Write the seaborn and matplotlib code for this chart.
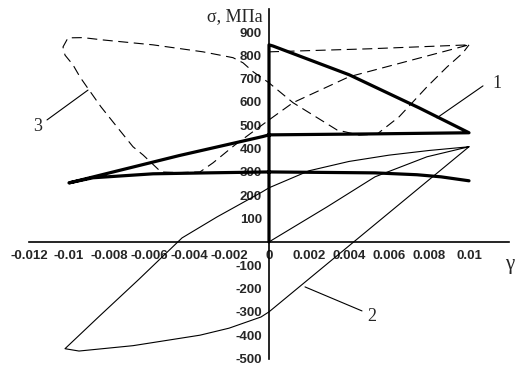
import pandas as pd
import matplotlib
matplotlib.use('Agg')
import matplotlib.pyplot as plt
import seaborn as sns
from matplotlib import font_manager

# Curve 1 (thick solid): shear strain gamma and stress sigma, MPa
g1 = [0, 0, 0.0002, 0.004, 0.0075, 0.01, 0.005, 0, -0.0003, -0.0045, -0.006, -0.01,
      -0.0088, -0.0058, -0.0031, 0, 0.0053, 0.0074, 0.0086, 0.01]
s1 = [0, 845, 840, 717, 575, 468, 463, 459, 452, 370, 338, 253,
      275, 292, 296, 300, 296, 288, 279, 262]

# Curve 2 (thin solid)
g2 = [0, 0.0029, 0.0053, 0.0079, 0.01, 0, -0.0004, -0.002, -0.00345, -0.0068, -0.0095,
      -0.0102, -0.0085, -0.0065, -0.00435, -0.0026, -0.00035, 0, 0.002, 0.004, 0.006,
      0.008, 0.01]
s2 = [0, 150, 279, 365, 408, -300, -322, -370, -400, -445, -468,
      -458, -320, -160, 17, 107, 214, 232, 305, 345, 372,
      392, 408]

# Curve 3 (dashed)
g3 = [0, 0.005, 0.01, 0.004, 0.0012, 0, -0.0017, -0.0028, -0.00345, -0.0045, -0.0054,
      -0.0063, -0.0068, -0.0076, -0.0084, -0.0091, -0.00945, -0.0098, -0.0102, -0.0103,
      -0.01005, -0.0093, -0.0083, -0.0058, -0.0033, -0.0018, -0.0013, -0.0008, 0, 0.0012,
      0.0034, 0.0045, 0.0054, 0.0065, 0.0079, 0.0089, 0.0097, 0.01]
s3 = [815, 828, 845, 708, 597, 523, 416, 339, 300, 297, 300,
      373, 408, 493, 579, 664, 707, 759, 801, 836,
      875, 876, 866, 845, 815, 790, 768, 730, 682, 597,
      480, 458, 462, 536, 665, 750, 811, 845]

x_ticks = [-0.012, -0.01, -0.008, -0.006, -0.004, -0.002, 0, 0.002, 0.004, 0.006, 0.008, 0.01, 0.012]
x_labels = ['-0.012', '-0.01', '-0.008', '-0.006', '-0.004', '-0.002', '0',
            '0.002', '0.004', '0.006', '0.008', '0.01', '']
y_ticks = [-500, -400, -300, -200, -100, 0, 100, 200, 300, 400, 500, 600, 700, 800, 900, 1000]
y_labels = ['-500', '-400', '-300', '-200', '-100', '', '100', '200', '300', '400',
            '500', '600', '700', '800', '900', '']

sns.set_style('white')
plt.rcParams['axes.unicode_minus'] = False

names = {f.name for f in font_manager.fontManager.ttflist}
tick_font = 'Liberation Sans' if 'Liberation Sans' in names else 'DejaVu Sans'
serif_font = 'Liberation Serif' if 'Liberation Serif' in names else 'DejaVu Serif'

fig = plt.figure(figsize=(5.29, 3.69), dpi=100)
ax = fig.add_axes([29 / 529, 10.5 / 369, 480 / 529, 349.8 / 369])

c1 = pd.DataFrame({'gamma': g1, 'sigma': s1})
c2 = pd.DataFrame({'gamma': g2, 'sigma': s2})
c3 = pd.DataFrame({'gamma': g3, 'sigma': s3})

sns.lineplot(data=c3, x='gamma', y='sigma', sort=False, estimator=None, ax=ax,
             color='black', linewidth=0.8, linestyle=(0, (9, 5)))
sns.lineplot(data=c2, x='gamma', y='sigma', sort=False, estimator=None, ax=ax,
             color='black', linewidth=0.8)
sns.lineplot(data=c1, x='gamma', y='sigma', sort=False, estimator=None, ax=ax,
             color='black', linewidth=2.3, solid_joinstyle='round')

ax.set_xlim(-0.012, 0.012)
ax.set_ylim(-500, 1000)
ax.spines['left'].set_position(('data', 0))
ax.spines['bottom'].set_position(('data', 0))
ax.spines['top'].set_visible(False)
ax.spines['right'].set_visible(False)
for sp in ['left', 'bottom']:
    ax.spines[sp].set_linewidth(1.2)
    ax.spines[sp].set_color('black')

ax.set_xticks(x_ticks)
ax.set_xticklabels(x_labels)
ax.set_yticks(y_ticks)
ax.set_yticklabels(y_labels)
ax.tick_params(axis='x', direction='inout', length=7, width=1.2, pad=2)
ax.tick_params(axis='y', direction='out', length=4, width=1.2, pad=1)
for lab in ax.get_xticklabels() + ax.get_yticklabels():
    lab.set_fontfamily(tick_font)
    lab.set_fontweight('bold')
    lab.set_fontsize(9.5)
ax.set_xlabel('')
ax.set_ylabel('')
ax.patch.set_alpha(0)

# axis titles
ax.text(-0.0003, 968, 'σ, МПа', ha='right', va='center', fontsize=13, family=serif_font)
ax.text(0.01205, -99, 'γ', ha='center', va='center', fontsize=15, family=serif_font)

# curve labels with leader lines
ax.plot([0.0107, 0.0084], [669, 532], color='black', linewidth=0.8, clip_on=False)
ax.text(0.0114, 681, '1', ha='center', va='center', fontsize=13, family=serif_font)
ax.plot([0.0018, 0.00465], [-193, -296], color='black', linewidth=0.8, clip_on=False)
ax.text(0.00515, -321, '2', ha='center', va='center', fontsize=13, family=serif_font)
ax.plot([-0.0111, -0.00905], [523, 651], color='black', linewidth=0.8, clip_on=False)
ax.text(-0.01155, 493, '3', ha='center', va='center', fontsize=13, family=serif_font)

fig.savefig('out.png', dpi=100, facecolor='white')
